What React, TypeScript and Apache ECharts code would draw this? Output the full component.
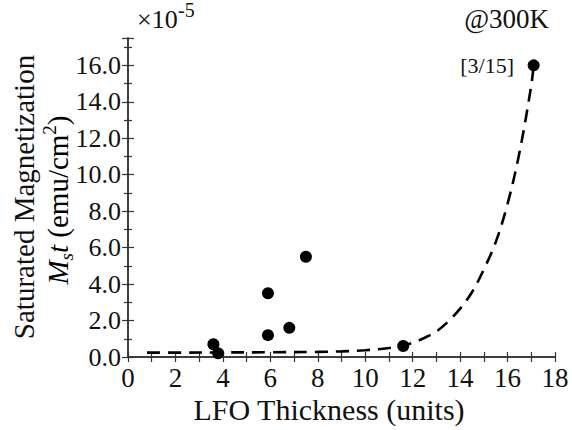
import React, { useEffect, useRef } from "react";
import * as echarts from "echarts";

// Measured points: LFO thickness (units) vs Ms*t (x1e-5 emu/cm^2)
const pointsX = [3.6, 3.8, 5.9, 5.9, 6.8, 7.5, 11.6, 17.1];
const pointsY = [0.7, 0.2, 3.5, 1.2, 1.6, 5.5, 0.6, 16.0];

// Dashed fit curve
const fitX = [0.8, 2, 4, 6, 8, 9, 10, 11, 11.5, 12, 12.5, 13, 13.5, 14, 14.5, 15, 15.5, 16, 16.5, 17, 17.1];
const fitY = [0.24, 0.24, 0.25, 0.26, 0.28, 0.31, 0.37, 0.49, 0.6, 0.78, 1.05, 1.4, 1.95, 2.65, 3.55, 4.8, 6.3, 8.4, 11.2, 14.9, 16.0];

const xMin = 0;
const xMax = 18;
const xStep = 2;
const yMin = 0;
const yMax = 17.5;
const yStep = 2;

const xTitle = "LFO Thickness (units)";
const yTitle1 = "Saturated Magnetization";
const scaleLabel = "×10";
const scaleExp = "-5";
const tempLabel = "@300K";
const refLabel = "[3/15]";

const FONT = "Liberation Serif";
const AXIS_COLOR = "#333";
const TEXT_COLOR = "#111";

export default function App() {
  const ref = useRef<HTMLDivElement>(null);
  useEffect(() => {
    if (!ref.current) return;
    const chart = echarts.init(ref.current, undefined, { renderer: "svg" });
    const axisLine = { show: true, lineStyle: { color: AXIS_COLOR, width: 1.5 } };
    const xBase = {
      type: "value" as const,
      min: xMin,
      max: xMax,
      interval: xStep,
      axisLine,
      splitLine: { show: false },
      axisTick: { show: true, inside: true, length: 5, lineStyle: { color: AXIS_COLOR, width: 1.2 } },
      minorTick: { show: true, splitNumber: 2, length: 5, lineStyle: { color: AXIS_COLOR, width: 1.2 } },
    };
    const yBase = {
      type: "value" as const,
      min: yMin,
      max: yMax,
      interval: yStep,
      axisLine,
      splitLine: { show: false },
      axisTick: { show: true, inside: true, length: 6, lineStyle: { color: AXIS_COLOR, width: 1.2 } },
      minorTick: { show: true, splitNumber: 2, length: 4, lineStyle: { color: AXIS_COLOR, width: 1.2 } },
    };
    const txt = (size: number, extra: any = {}) => ({
      fontFamily: FONT,
      fontSize: size,
      fill: TEXT_COLOR,
      ...extra,
    });
    chart.setOption({
      animation: false,
      grid: { left: 128, right: 17, top: 38, bottom: 73, containLabel: false, outerBoundsMode: "none" },
      xAxis: [
        {
          ...xBase,
          position: "bottom",
          axisLabel: { show: true, margin: 7, fontSize: 27, lineHeight: 27, fontFamily: FONT, color: TEXT_COLOR },
        },
        { ...xBase, position: "top", axisLabel: { show: false } },
      ],
      yAxis: [
        {
          ...yBase,
          position: "left",
          axisLabel: {
            show: true,
            margin: 7,
            fontSize: 26,
            fontFamily: FONT,
            color: TEXT_COLOR,
            showMaxLabel: false,
            formatter: (v: number) => v.toFixed(1),
          },
        },
        { ...yBase, position: "right", axisLabel: { show: false } },
      ],
      series: [
        {
          type: "line",
          xAxisIndex: 0,
          yAxisIndex: 0,
          data: fitX.map((x, i) => [x, fitY[i]]),
          showSymbol: false,
          smooth: 0.35,
          lineStyle: { color: "#000", width: 2.6, type: [13, 8] },
          z: 2,
        },
        {
          type: "scatter",
          xAxisIndex: 0,
          yAxisIndex: 0,
          data: pointsX.map((x, i) => [x, pointsY[i]]),
          symbol: "circle",
          symbolSize: 12,
          itemStyle: { color: "#000", opacity: 1 },
          z: 3,
        },
      ],
      graphic: [
        {
          type: "text",
          x: 329,
          y: 409,
          style: txt(30, { text: xTitle, align: "center", verticalAlign: "middle" }),
        },
        {
          type: "text",
          x: 24,
          y: 197,
          rotation: Math.PI / 2,
          style: txt(29, { text: yTitle1, align: "center", verticalAlign: "middle" }),
        },
        {
          type: "text",
          x: 58,
          y: 200,
          rotation: Math.PI / 2,
          style: {
            text: "{m|M}{s|s}{m|t}{n| (emu/cm}{p|2}{n|)}",
            align: "center",
            verticalAlign: "middle",
            rich: {
              m: { fontFamily: FONT, fontSize: 29, fontStyle: "italic", lineHeight: 36, color: TEXT_COLOR },
              n: { fontFamily: FONT, fontSize: 29, lineHeight: 36, color: TEXT_COLOR },
              s: { fontFamily: FONT, fontSize: 19, fontStyle: "italic", lineHeight: 18, verticalAlign: "bottom", color: TEXT_COLOR },
              p: { fontFamily: FONT, fontSize: 19, lineHeight: 18, verticalAlign: "top", color: TEXT_COLOR },
            },
          },
        },
        {
          type: "text",
          x: 137,
          y: 19,
          style: txt(26, { text: scaleLabel, align: "left", verticalAlign: "middle" }),
        },
        {
          type: "text",
          x: 178,
          y: 10,
          style: txt(20, { text: scaleExp, align: "left", verticalAlign: "middle" }),
        },
        {
          type: "text",
          x: 549,
          y: 19,
          style: txt(27, { text: tempLabel, align: "right", verticalAlign: "middle" }),
        },
        {
          type: "text",
          x: 514,
          y: 65,
          style: txt(22, { text: refLabel, align: "right", verticalAlign: "middle" }),
        },
      ],
    });
    return () => chart.dispose();
  }, []);
  return <div ref={ref} style={{ width: 572, height: 430, position: "absolute", left: 0, top: 0 }} />;
}
